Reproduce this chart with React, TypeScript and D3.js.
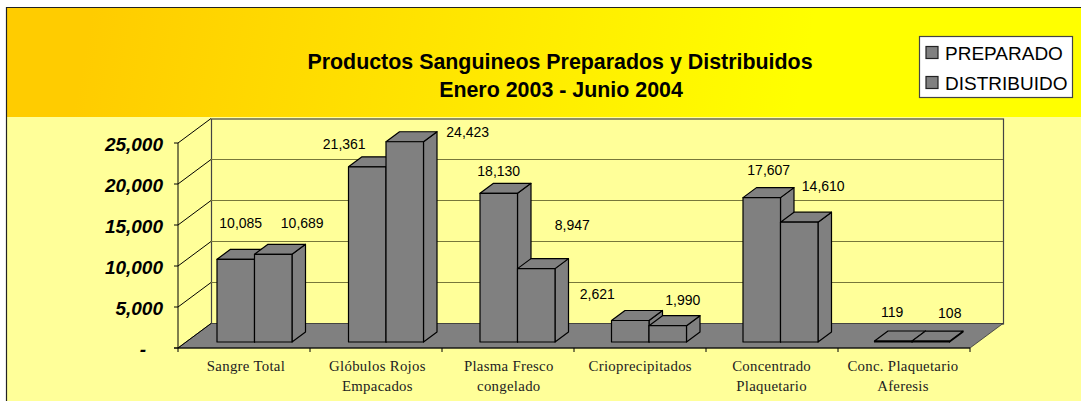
import React from 'react';
import * as d3 from 'd3';

const categories = [
  ['Sangre Total'],
  ['Glóbulos Rojos', 'Empacados'],
  ['Plasma Fresco', 'congelado'],
  ['Crioprecipitados'],
  ['Concentrado', 'Plaquetario'],
  ['Conc. Plaquetario', 'Aferesis'],
];
const seriesNames = ['PREPARADO', 'DISTRIBUIDO'];
const preparado = [10085, 21361, 18130, 2621, 17607, 119];
const distribuido = [10689, 24423, 8947, 1990, 14610, 108];
const yTicks = [0, 5000, 10000, 15000, 20000, 25000];

const width = 1081;
const height = 401;
const frame = { x: 6.5, y: 7.5, headerBottom: 117 };
const plot = { left: 178, right: 970, bottom: 348, top: 143 };
const wallDx = 33;
const wallDy = -24.5;
const barDx = 13.5;
const barDy = -10;
const barBase = 342;

// the labels sit where someone dragged them in the original, not right on the bars
const preparadoNudge = [[5, -31], [-23, -18], [0, -17], [-33, -22], [7, -23], [-1, -24]];
const distribuidoNudge = [[29, -26], [63, -5], [36, -39], [15, -21], [24, -31], [19, -23]];

const fmt = (v: number) => d3.format(',')(v);

const App = () => {
  const x = d3.scaleBand<number>().domain(d3.range(categories.length)).range([plot.left, plot.right]);
  const yAxis = d3.scaleLinear().domain([0, 25000]).range([plot.bottom, plot.top]);
  const yBar = d3.scaleLinear().domain([0, 25000]).range([barBase, barBase - 205]);
  const barW = 37.5;
  const barX = (i: number, s: number) => (x(i) as number) + 39 - i * 0.5 + s * barW;

  const line = d3.line();
  const poly = (pts: [number, number][]) => line(pts) + 'Z';

  const series = [preparado, distribuido];
  const nudges = [preparadoNudge, distribuidoNudge];

  return (
    <svg
      width={width}
      height={height}
      style={{ position: 'absolute', left: 0, top: 0, background: '#fff' }}
    >
      <defs>
        <linearGradient id="head" gradientUnits="userSpaceOnUse" x1={90} y1={20} x2={790} y2={150}>
          <stop offset="0" stopColor="#ffcc00" />
          <stop offset="1" stopColor="#ffff00" />
        </linearGradient>
      </defs>
      <rect x={frame.x} y={frame.y} width={width} height={height} fill="#ffff99" />
      <rect x={frame.x} y={frame.y} width={width} height={frame.headerBottom - frame.y} fill="url(#head)" />
      <path d={`M${frame.x},${height}V${frame.y}H${width}`} fill="none" stroke="#222" strokeWidth={1.2} />

      <g fontFamily="Liberation Sans" fontWeight="bold" fontSize={21.4} textAnchor="middle" fill="#000">
        <text x={560} y={69}>Productos Sanguineos Preparados y Distribuidos</text>
        <text x={561} y={97}>Enero 2003 - Junio 2004</text>
      </g>

      {/* back wall and gridlines */}
      <rect
        x={plot.left + wallDx + 0.5}
        y={plot.top + wallDy + 0.5}
        width={plot.right - plot.left}
        height={plot.bottom - plot.top}
        fill="#ffff99"
        stroke="#444"
        strokeWidth={1.2}
      />
      {yTicks.slice(1, -1).map(t => (
        <line
          key={t}
          x1={plot.left + wallDx}
          x2={plot.right + wallDx}
          y1={yAxis(t) + wallDy}
          y2={yAxis(t) + wallDy}
          stroke="#77773a"
          strokeWidth={1.2}
        />
      ))}
      {/* floor */}
      <path
        d={poly([
          [plot.left, plot.bottom],
          [plot.left + wallDx, plot.bottom + wallDy],
          [plot.right + wallDx, plot.bottom + wallDy],
          [plot.right, plot.bottom],
        ])}
        fill="#808080"
        stroke="#333"
        strokeWidth={0.8}
      />
      {/* left wall */}
      {yTicks.map(t => (
        <line
          key={t}
          x1={plot.left}
          x2={plot.left + wallDx}
          y1={yAxis(t)}
          y2={yAxis(t) + wallDy}
          stroke="#000"
          strokeWidth={1}
        />
      ))}
      <line x1={plot.left} x2={plot.left} y1={plot.top} y2={plot.bottom} stroke="#000" />
      <line x1={plot.left - 4} x2={plot.right} y1={plot.bottom} y2={plot.bottom} stroke="#000" />
      {yTicks.map(t => (
        <line key={t} x1={plot.left - 4} x2={plot.left} y1={yAxis(t)} y2={yAxis(t)} stroke="#000" />
      ))}
      {d3.range(categories.length + 1).map(i => {
        const tx = plot.left + i * x.step();
        return <line key={i} x1={tx} x2={tx} y1={plot.bottom} y2={plot.bottom + 4} stroke="#000" />;
      })}

      {/* bars */}
      {categories.map((_, i) =>
        series.map((vals, s) => {
          const x0 = barX(i, s);
          const x1 = x0 + barW;
          const top = yBar(vals[i]);
          return (
            <g key={`${i}-${s}`} fill="#808080" stroke="#000" strokeWidth={1.2} strokeLinejoin="round">
              <path d={poly([[x1, top], [x1 + barDx, top + barDy], [x1 + barDx, barBase + barDy], [x1, barBase]])} />
              <path d={poly([[x0, top], [x0 + barDx, top + barDy], [x1 + barDx, top + barDy], [x1, top]])} />
              <rect x={x0} y={top} width={barW} height={barBase - top} />
            </g>
          );
        })
      )}

      {/* data labels */}
      <g fontFamily="Liberation Sans" fontSize={14} textAnchor="middle" fill="#000">
        {categories.map((_, i) =>
          series.map((vals, s) => (
            <text
              key={`${i}-${s}`}
              x={barX(i, s) + barW / 2 + nudges[s][i][0]}
              y={yBar(vals[i]) + nudges[s][i][1]}
            >
              {fmt(vals[i])}
            </text>
          ))
        )}
      </g>

      {/* y axis labels */}
      <g fontFamily="Liberation Sans" fontWeight="bold" fontStyle="italic" fontSize={19} textAnchor="end" fill="#000">
        {yTicks.map(t => (
          <text key={t} x={t === 0 ? 146 : 163} y={yAxis(t) + 7.5}>
            {t === 0 ? '-' : fmt(t)}
          </text>
        ))}
      </g>

      {/* category labels */}
      <g fontFamily="Liberation Serif" fontSize={14.8} textAnchor="middle" fill="#222">
        {categories.map((lines, i) =>
          lines.map((l, k) => (
            <text
              key={k}
              x={(x(i) as number) + x.bandwidth() / 2 + 2 - i * 0.6}
              y={371 + k * 20}
              letterSpacing={0.3}
            >
              {l}
            </text>
          ))
        )}
      </g>

      {/* legend */}
      <rect x={919.5} y={36.5} width={153} height={61} fill="#fff" stroke="#444" strokeWidth={1.2} />
      {seriesNames.map((n, i) => (
        <g key={n}>
          <rect x={926} y={46.5 + i * 30} width={12} height={12} fill="#808080" stroke="#222" strokeWidth={1.2} />
          <text x={945} y={59.5 + i * 30} fontFamily="Liberation Sans" fontSize={19} fill="#000">
            {n}
          </text>
        </g>
      ))}
    </svg>
  );
};

export default App;
